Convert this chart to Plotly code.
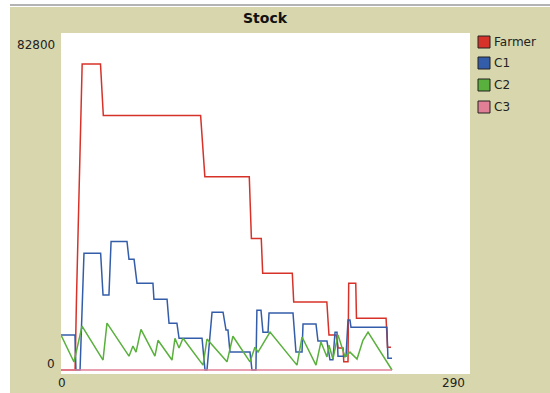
import plotly.graph_objects as go

# ---- data (ticks, stock) ----
farmer_x = [0, 10, 11, 15, 28, 30, 99, 100.5, 102, 133.5, 135, 142, 143, 164, 165,
            188.5, 190, 195, 196.5, 200, 200.5, 203.5, 204, 209, 209.5, 230.5, 231.5, 234]
farmer_y = [0, 0, 17900, 75200, 75200, 62500, 62500, 54700, 47500, 47500, 32300, 32300,
            23800, 23800, 16700, 16700, 8600, 8600, 5400, 5400, 2000, 2000, 21300, 21300,
            12700, 12700, 5600, 5600]

c1_x = [0, 9.9, 10.6, 13.5, 16.3, 28.1, 29.8, 34, 35.5, 46.8, 48.2, 51.8, 53.9, 65.2, 65.9,
        75.2, 76.6, 82.2, 83.7, 100, 102.1, 103.5, 107.1, 114.9, 117, 118.4, 119.8, 134,
        135.4, 138.2, 138.9, 141.8, 143.2, 146.8, 147.5, 164.5, 166.6, 170.9, 171.6, 180.8,
        182.2, 188.6, 190.7, 192.8, 194.3, 195.7, 196.4, 202.1, 203.5, 204.9, 205.6, 231.1,
        231.8, 234.7]
c1_y = [8600, 8600, 0, 0, 28700, 28700, 18400, 18400, 31600, 31600, 27200, 27200, 21300,
        21300, 17400, 17400, 11500, 11500, 7800, 7800, 0, 0, 14200, 14200, 9800, 9800, 4400,
        4400, 0, 0, 14700, 14700, 9300, 9300, 14000, 14000, 4400, 4400, 11300, 11300, 7100,
        7100, 2500, 2500, 9300, 9300, 3400, 3400, 12300, 12300, 10500, 10500, 2900, 2900]

c2_x = [0, 9.2, 14.9, 29.8, 32.6, 48.2, 51.0, 53.2, 56.7, 66.6, 68.8, 78.7, 80.8, 83.7, 86.5,
        100.7, 103.5, 117.7, 121.9, 134.0, 137.5, 139.7, 148.2, 167.3, 170.9, 180.8, 184.3,
        188.6, 190.0, 192.8, 196.4, 201.4, 204.9, 209.9, 214.1, 217.7, 234.7]
c2_y = [8600, 1960, 10800, 2450, 11500, 3400, 5900, 4400, 10000, 3400, 7300, 2450, 7800, 5400,
        7800, 1200, 7600, 2000, 8300, 2000, 5600, 4400, 9300, 1200, 8100, 1200, 6900, 3200,
        6100, 2700, 8600, 3200, 4400, 2700, 7300, 9300, 0]

c3_x = [0, 234.7]
c3_y = [0, 0]

series_names = ["Farmer", "C1", "C2", "C3"]
series_colors = ["#d73229", "#345da9", "#59b03c", "#e07f96"]

x_min, x_max = 0, 290
y_min, y_max = 0, 82800
title = "Stock"

# ---- figure ----
W, H = 550, 393
L, R, T, B = 61, 80, 33, 19
pw, ph = W - L - R, H - T - B

fig = go.Figure()
for name, xs, ys, col in zip(series_names,
                             [farmer_x, c1_x, c2_x, c3_x],
                             [farmer_y, c1_y, c2_y, c3_y],
                             series_colors):
    fig.add_trace(go.Scatter(x=xs, y=ys, mode="lines", name=name,
                             line=dict(color=col, width=1.5), showlegend=False))

khaki = "rgb(215,214,172)"
font = "DejaVu Sans"

def px2paper_x(px):
    return (px - L) / pw

def py2paper_y(py):
    return (H - B - py) / ph

shapes = [
    # white strips at left / top of the capture
    dict(type="rect", xref="paper", yref="paper", x0=px2paper_x(0), x1=px2paper_x(10),
         y0=py2paper_y(H), y1=py2paper_y(0), fillcolor="white", line=dict(width=0), layer="below"),
    dict(type="rect", xref="paper", yref="paper", x0=px2paper_x(0), x1=px2paper_x(W),
         y0=py2paper_y(7), y1=py2paper_y(0), fillcolor="white", line=dict(width=0), layer="below"),
    dict(type="line", xref="paper", yref="paper", x0=px2paper_x(10), x1=px2paper_x(W),
         y0=py2paper_y(5), y1=py2paper_y(5), line=dict(color="#9a9a9a", width=1.5)),
]

annotations = [
    dict(text="<b>" + title + "</b>", x=0.5, y=py2paper_y(18), xref="paper", yref="paper",
         showarrow=False, font=dict(family=font, size=14, color="#111"), yanchor="middle"),
    dict(text=str(y_max), x=px2paper_x(57), y=py2paper_y(45), xref="paper", yref="paper",
         xanchor="right", yanchor="middle", showarrow=False, font=dict(family=font, size=12, color="#222")),
    dict(text=str(y_min), x=px2paper_x(57), y=py2paper_y(364), xref="paper", yref="paper",
         xanchor="right", yanchor="middle", showarrow=False, font=dict(family=font, size=12, color="#222")),
    dict(text=str(x_min), x=px2paper_x(62), y=py2paper_y(383), xref="paper", yref="paper",
         xanchor="center", yanchor="middle", showarrow=False, font=dict(family=font, size=12, color="#222")),
    dict(text=str(x_max), x=px2paper_x(467), y=py2paper_y(383), xref="paper", yref="paper",
         xanchor="right", yanchor="middle", showarrow=False, font=dict(family=font, size=12, color="#222")),
]

# legend (NetLogo-style squares)
leg_y = [42, 63, 85, 107]
for name, col, ly in zip(series_names, series_colors, leg_y):
    shapes.append(dict(type="rect", xref="paper", yref="paper",
                       x0=px2paper_x(478), x1=px2paper_x(490),
                       y0=py2paper_y(ly + 6), y1=py2paper_y(ly - 6),
                       fillcolor=col, line=dict(color="#222", width=1)))
    annotations.append(dict(text=name, x=px2paper_x(492), y=py2paper_y(ly), xref="paper", yref="paper",
                            xanchor="left", yanchor="middle", showarrow=False,
                            font=dict(family=font, size=12, color="#222")))

y_pad = (y_max - y_min) / (370 - T) * (H - B - 370)
fig.update_layout(
    width=W, height=H, margin=dict(l=L, r=R, t=T, b=B, pad=0),
    paper_bgcolor=khaki, plot_bgcolor="white",
    xaxis=dict(range=[x_min, x_max], showgrid=False, zeroline=False, showticklabels=False,
               ticks="", showline=False, fixedrange=True),
    yaxis=dict(range=[y_min - y_pad, y_max], showgrid=False, zeroline=False, showticklabels=False,
               ticks="", showline=False, fixedrange=True),
    shapes=shapes, annotations=annotations, showlegend=False,
)

fig.write_html("out.html", config={"displayModeBar": False},
               post_script="document.body.style.margin='0';document.body.style.overflow='hidden';")
